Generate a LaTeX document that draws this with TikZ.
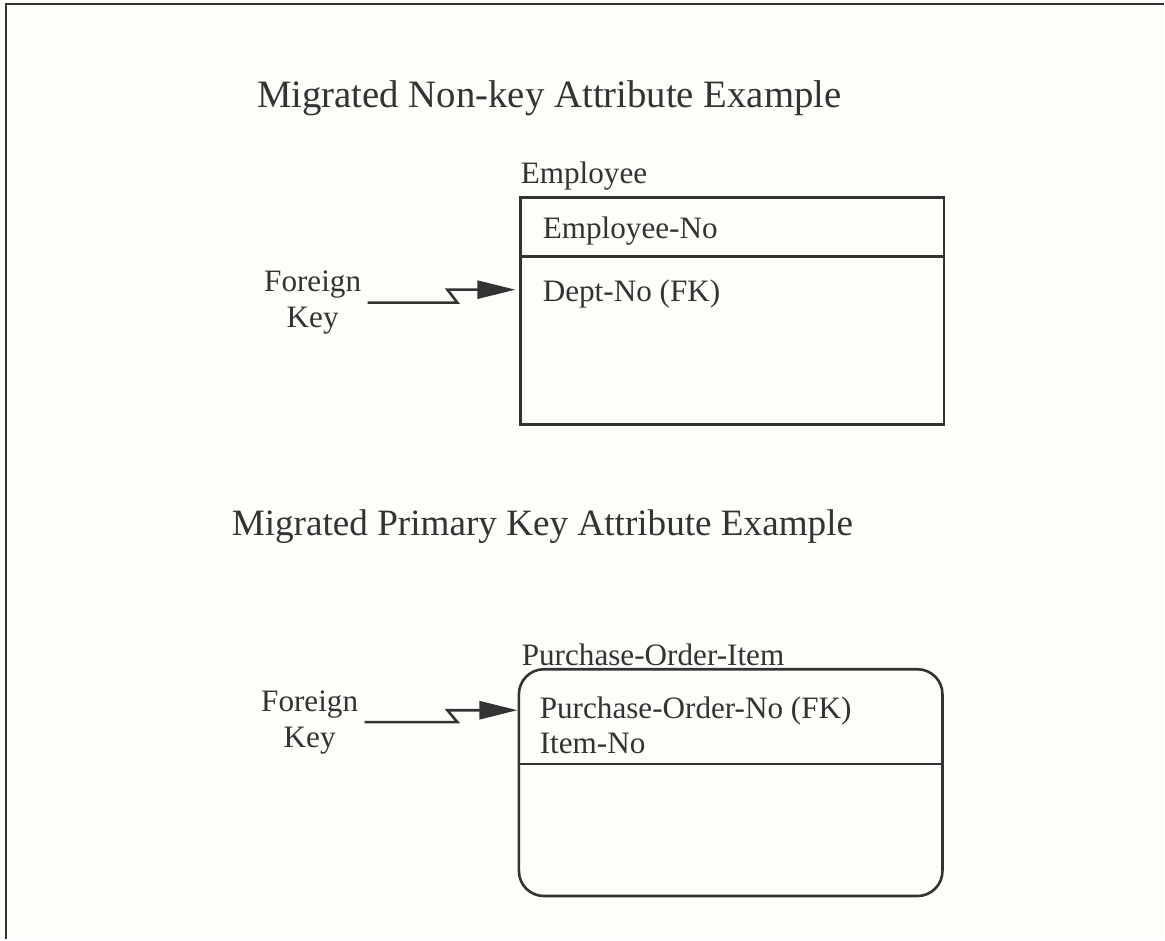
\documentclass[tikz,border=0pt]{standalone}
\usepackage{fontspec}
\setmainfont{Liberation Serif}
\usetikzlibrary{arrows.meta}

\definecolor{ink}{HTML}{333333}
\definecolor{paper}{HTML}{FDFDFA}

\begin{document}
\begin{tikzpicture}[x=0.5pt,y=-0.5pt,
        every node/.style={text=ink},
        lbl/.style={inner sep=0pt,anchor=west,font=\fontsize{15.6}{18}\selectfont},
        ttl/.style={inner sep=0pt,font=\fontsize{19}{22}\selectfont},
        ent/.style={draw=ink,line width=1.3pt,inner sep=0pt,minimum width=212pt,minimum height=113.5pt},
        fk/.style={align=center,inner sep=3pt,font=\fontsize{15.6}{18}\selectfont},
        fkarrow/.style={draw=ink,line width=1.3pt,-{Triangle[length=19pt,width=9pt]}}]
            \fill[paper] (0,0) rectangle (1165,940);
            \draw[ink,line width=1.3pt] (6,940) -- (6,4) -- (1165,4);

            % non-key example
            \node[ttl,font=\fontsize{19.4}{22}\selectfont] (t1) at (550,98) {Migrated Non-key Attribute Example};
            \node[ent] (emp) at (733,311.5) {};
            \node[lbl] (empname) at (521,176) {Employee};
            \node[lbl] (empno) at (543,231) {Employee-No};
            \node[lbl] (deptno) at (543,294) {Dept-No (FK)};
            \draw[ink,line width=1.3pt] (emp.west |- 0,257) -- (emp.east |- 0,257);

            \node[fk] (fk1) at (313,303) {Foreign\\Key};
            \coordinate (tip1) at (516,290);
            \draw[fkarrow] (fk1.east) -- ++(90,0) -- ++(-10,-13) -- (tip1);

            % primary key example
            \node[ttl,font=\fontsize{18.6}{22}\selectfont] (t2) at (543,527) {Migrated Primary Key Attribute Example};
            \node[ent,rounded corners=12.5pt] (poi) at (731.5,783.5) {};
            \node[lbl] (poiname) at (522,656) {Purchase-Order-Item};
            \node[lbl] (pono) at (540,712) {Purchase-Order-No (FK)};
            \node[lbl] (itemno) at (540,744) {Item-No};
            \draw[ink,line width=1.3pt] (poi.west |- 0,765) -- (poi.east |- 0,765);

            \node[fk] (fk2) at (310,723) {Foreign\\Key};
            \coordinate (tip2) at (518,711);
            \draw[fkarrow] (fk2.east) -- ++(93,0) -- ++(-10,-12) -- (tip2);
        \end{tikzpicture}
\end{document}
